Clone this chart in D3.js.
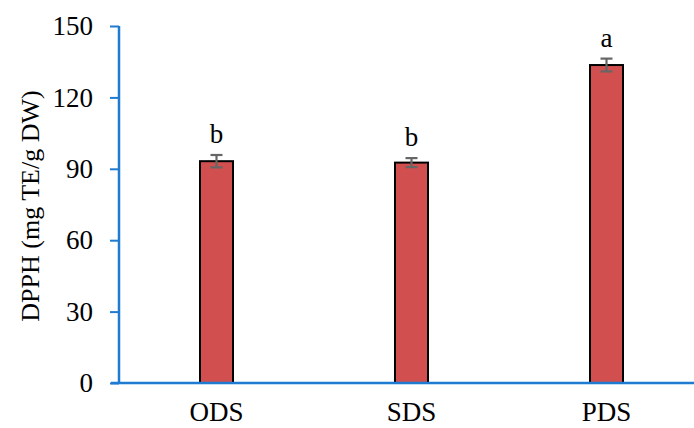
<!DOCTYPE html>
<html lang="en">
<head>
	<meta charset="utf-8">
	<script src="https://d3js.org/d3.v7.min.js"></script>
	<style>
		body{ margin:0; background:white; overflow:hidden; }
		svg{ display:block; }
		text{ font-family: "Liberation Serif", "Times New Roman", serif; fill:#000; }
	</style>
</head>
<body>
	<script>
		var categories = ["ODS", "SDS", "PDS"];
		var values = [93.2, 92.6, 133.6];
		var errors = [2.6, 1.9, 2.7];
		var letters = ["b", "b", "a"];
		var yTicks = [0, 30, 60, 90, 120, 150];

		var width = 694, height = 428;
		var plotLeft = 119, plotRight = 704, plotTop = 26, plotBottom = 383;

		var svg = d3.select("body").append("svg")
			.attr("width", width)
			.attr("height", height);

		var x = d3.scaleBand().domain(categories).range([plotLeft, plotRight]);
		var y = d3.scaleLinear().domain([0, 150]).range([plotBottom, plotTop]);
		var barW = 33;

		// y axis
		var yAxis = svg.append("g")
			.attr("transform", "translate(" + plotLeft + ",0)")
			.call(d3.axisLeft(y).tickValues(yTicks).tickSize(9).tickPadding(17));
		yAxis.select(".domain").attr("stroke", "#1f7bd0").attr("stroke-width", 2.5)
			.attr("d", "M0," + plotTop + "V" + plotBottom);
		yAxis.selectAll(".tick line").attr("stroke", "#1f7bd0").attr("stroke-width", 2);
		yAxis.selectAll(".tick text").style("font-size", "27px").style("font-family", "Liberation Serif");

		// bars
		var g = svg.append("g");
		g.selectAll("rect")
			.data(categories)
			.enter()
			.append("rect")
			.attr("x", function(d){ return x(d) + x.bandwidth()/2 - barW/2; })
			.attr("y", function(d, i){ return y(values[i]); })
			.attr("width", barW)
			.attr("height", function(d, i){ return plotBottom - y(values[i]); })
			.attr("fill", "#d24f4f")
			.attr("stroke", "#000")
			.attr("stroke-width", 2);

		// x axis line
		svg.append("line")
			.attr("x1", 111).attr("x2", width)
			.attr("y1", plotBottom).attr("y2", plotBottom)
			.attr("stroke", "#1f7bd0").attr("stroke-width", 2.5);

		// error bars
		var eb = svg.append("g").attr("stroke", "#666").attr("stroke-width", 2.2);
		categories.forEach(function(d, i){
			var cx = x(d) + x.bandwidth()/2;
			eb.append("line").attr("x1", cx).attr("x2", cx)
				.attr("y1", y(values[i] + errors[i])).attr("y2", y(values[i] - errors[i]));
			eb.append("line").attr("x1", cx - 6).attr("x2", cx + 6)
				.attr("y1", y(values[i] + errors[i])).attr("y2", y(values[i] + errors[i]));
			eb.append("line").attr("x1", cx - 6).attr("x2", cx + 6)
				.attr("y1", y(values[i] - errors[i])).attr("y2", y(values[i] - errors[i]));
		});

		// significance letters
		svg.selectAll("text.letter")
			.data(categories)
			.enter()
			.append("text")
			.attr("class", "letter")
			.attr("x", function(d){ return x(d) + x.bandwidth()/2; })
			.attr("y", function(d, i){ return y(values[i] + errors[i]) - 12; })
			.attr("text-anchor", "middle")
			.style("font-size", "27px")
			.text(function(d, i){ return letters[i]; });

		// category labels
		svg.selectAll("text.cat")
			.data(categories)
			.enter()
			.append("text")
			.attr("class", "cat")
			.attr("x", function(d){ return x(d) + x.bandwidth()/2; })
			.attr("y", 421)
			.attr("text-anchor", "middle")
			.style("font-size", "27px")
			.text(function(d){ return d; });

		// y title
		svg.append("text")
			.attr("transform", "translate(39,206) rotate(-90)")
			.attr("text-anchor", "middle")
			.style("font-size", "26px")
			.text("DPPH (mg TE/g DW)");
	</script>
</body>
</html>
